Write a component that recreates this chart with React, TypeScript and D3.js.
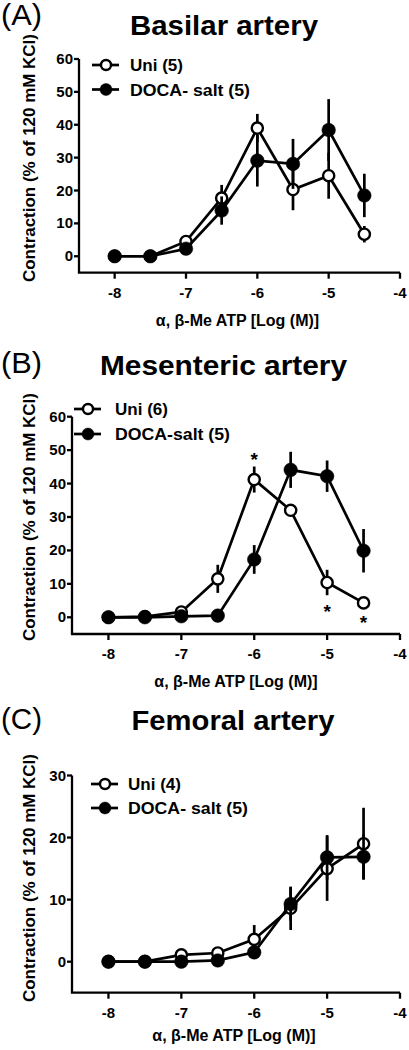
import React from "react";
import * as d3 from "d3";

// ---- data ----
const doses = [-8, -7.5, -7, -6.5, -6, -5.5, -5, -4.5];
const xTicks = [-8, -7, -6, -5, -4];
const yTicksAB = [0, 10, 20, 30, 40, 50, 60];
const yTicksC = [0, 10, 20, 30];

const basilarUni = [0, 0, 4.5, 17.7, 39.0, 20.3, 24.5, 6.7];
const basilarUniSem = [0, 0, 1.0, 4.0, 4.3, 6.3, 7.0, 2.5];
const basilarDoca = [0, 0, 2.3, 13.9, 29.1, 28.1, 38.4, 18.5];
const basilarDocaSem = [0, 0, 0.8, 4.3, 7.9, 7.6, 9.4, 6.6];

const mesUni = [0, 0.2, 1.6, 11.5, 41.2, 32.0, 10.4, 4.3];
const mesUniSem = [0, 0, 0.8, 4.2, 3.9, 1.2, 3.8, 1.2];
const mesDoca = [0, 0, 0.3, 0.5, 17.3, 44.1, 42.2, 19.9];
const mesDocaSem = [0, 0, 0, 0.3, 4.3, 5.4, 4.7, 6.5];
const mesStars = [
  { x: -6, y: 48.5 },
  { x: -5, y: 3.2 },
  { x: -4.5, y: -0.2 },
];

const femUni = [0, 0, 1.1, 1.4, 3.6, 8.6, 15.0, 19.0];
const femUniSem = [0, 0, 0.3, 0.3, 2.3, 3.5, 5.2, 5.8];
const femDoca = [0, 0, 0, 0.2, 1.5, 9.3, 16.8, 16.9];
const femDocaSem = [0, 0, 0, 0.2, 0.5, 2.7, 3.6, 3.6];

const panelLetters = ["(A)", "(B)", "(C)"];
const titles = ["Basilar artery", "Mesenteric artery", "Femoral artery"];
const uniLabels = ["Uni (5)", "Uni (6)", "Uni (4)"];
const docaLabels = ["DOCA- salt (5)", "DOCA-salt (5)", "DOCA- salt (5)"];
const xLabel = "α, β-Me ATP [Log (M)]";
const yLabel = "Contraction (% of 120 mM KCl)";

// ---- layout ----
const FONT = "'Liberation Sans', Arial, Helvetica, sans-serif";

type Panel = {
  letter: string;
  title: string;
  uniLabel: string;
  docaLabel: string;
  uni: number[];
  uniSem: number[];
  doca: number[];
  docaSem: number[];
  stars: { x: number; y: number }[];
  yTicks: number[];
  yMax: number;
  left: number;
  right: number;
  yTop: number;
  yBottom: number;
  letterBase: number;
  titleX: number;
  titleBase: number;
  titleLen: number;
  legX: number;
  legY: number[];
  legTextX: number;
  legLen: number[];
  yLabelY: number;
  xLabelX: number;
  xLabelBase: number;
};

const panels: Panel[] = [
  {
    letter: panelLetters[0], title: titles[0], uniLabel: uniLabels[0], docaLabel: docaLabels[0],
    uni: basilarUni, uniSem: basilarUniSem, doca: basilarDoca, docaSem: basilarDocaSem, stars: [],
    yTicks: yTicksAB, yMax: 60,
    left: 79, right: 400, yTop: 59, yBottom: 272.7,
    letterBase: 25, titleX: 224, titleBase: 35, titleLen: 188,
    legX: 106, legY: [65, 89.5], legTextX: 130, legLen: [53, 120],
    yLabelY: 158, xLabelX: 237.5, xLabelBase: 326,
  },
  {
    letter: panelLetters[1], title: titles[1], uniLabel: uniLabels[1], docaLabel: docaLabels[1],
    uni: mesUni, uniSem: mesUniSem, doca: mesDoca, docaSem: mesDocaSem, stars: mesStars,
    yTicks: yTicksAB, yMax: 60,
    left: 72, right: 400, yTop: 416.7, yBottom: 634,
    letterBase: 373, titleX: 223.5, titleBase: 375, titleLen: 247,
    legX: 88, legY: [409, 434], legTextX: 115, legLen: [53, 115],
    yLabelY: 517, xLabelX: 236, xLabelBase: 687,
  },
  {
    letter: panelLetters[2], title: titles[2], uniLabel: uniLabels[2], docaLabel: docaLabels[2],
    uni: femUni, uniSem: femUniSem, doca: femDoca, docaSem: femDocaSem, stars: [],
    yTicks: yTicksC, yMax: 30,
    left: 72, right: 400, yTop: 775.5, yBottom: 992.7,
    letterBase: 729, titleX: 233, titleBase: 730, titleLen: 203,
    legX: 105, legY: [784, 808], legTextX: 128, legLen: [53, 120],
    yLabelY: 878, xLabelX: 234, xLabelBase: 1041,
  },
];

const LW = 2.7;
const R = 6.8;

function Series({ x, y, vals, sem, open }: any) {
  const line = d3
    .line<number>()
    .x((_, i) => x(doses[i]))
    .y((v) => y(v));
  return (
    <g>
      {vals.map((v: number, i: number) =>
        sem[i] > 0 ? (
          <line
            key={"e" + i}
            x1={x(doses[i])}
            x2={x(doses[i])}
            y1={y(v + sem[i])}
            y2={y(v - sem[i])}
            stroke="#000"
            strokeWidth={LW}
          />
        ) : null
      )}
      <path d={line(vals) || ""} fill="none" stroke="#000" strokeWidth={LW} />
      {vals.map((v: number, i: number) => (
        <circle
          key={"m" + i}
          cx={x(doses[i])}
          cy={y(v)}
          r={open ? R - 1.2 : R}
          fill={open ? "#fff" : "#000"}
          stroke="#000"
          strokeWidth={open ? 2.4 : 0.5}
        />
      ))}
    </g>
  );
}

function PanelView({ p }: { p: Panel }) {
  const x = d3.scaleLinear().domain([-8.5, -4]).range([p.left, p.right]);
  const y = d3.scaleLinear().domain([-5, p.yMax]).range([p.yBottom, p.yTop]);
  return (
    <g fontFamily={FONT}>
      <text x={1} y={p.letterBase} fontSize={29} textLength={41} lengthAdjust="spacingAndGlyphs">
        {p.letter}
      </text>
      <text
        x={p.titleX - p.titleLen / 2}
        y={p.titleBase}
        fontSize={28}
        fontWeight="bold"
        textLength={p.titleLen}
        lengthAdjust="spacingAndGlyphs"
      >
        {p.title}
      </text>
      {/* axes */}
      <line x1={p.left} x2={p.left} y1={y(p.yMax)} y2={p.yBottom} stroke="#000" strokeWidth={2.3} />
      <line x1={p.left - 1.1} x2={p.right} y1={p.yBottom} y2={p.yBottom} stroke="#000" strokeWidth={2.3} />
      {p.yTicks.map((t) => (
        <g key={"yt" + t}>
          <line x1={p.left - 5} x2={p.left} y1={y(t)} y2={y(t)} stroke="#000" strokeWidth={2.3} />
          <text x={p.left - 6} y={y(t) + 5} textAnchor="end" fontSize={15} fontWeight="bold">
            {t}
          </text>
        </g>
      ))}
      {xTicks.map((t) => (
        <g key={"xt" + t}>
          <line x1={x(t)} x2={x(t)} y1={p.yBottom} y2={p.yBottom + 6} stroke="#000" strokeWidth={2.3} />
          <text x={x(t)} y={p.yBottom + 25} textAnchor="middle" fontSize={15} fontWeight="bold">
            {String(t)}
          </text>
        </g>
      ))}
      <text
        transform={`translate(29, ${p.yLabelY}) rotate(-90)`}
        textAnchor="middle"
        dy="0.35em"
        fontSize={16.5}
        fontWeight="bold"
        textLength={248}
        lengthAdjust="spacingAndGlyphs"
      >
        {yLabel}
      </text>
      <text
        x={p.xLabelX}
        y={p.xLabelBase}
        textAnchor="middle"
        fontSize={16}
        fontWeight="bold"
      >
        {xLabel}
      </text>
      {/* legend */}
      {[0, 1].map((k) => (
        <g key={"lg" + k}>
          <line x1={p.legX - 14} x2={p.legX + 13} y1={p.legY[k]} y2={p.legY[k]} stroke="#000" strokeWidth={LW} />
          <circle
            cx={p.legX}
            cy={p.legY[k]}
            r={k === 0 ? 5 : 6}
            fill={k === 0 ? "#fff" : "#000"}
            stroke="#000"
            strokeWidth={k === 0 ? 2.4 : 0.5}
          />
          <text
            x={p.legTextX}
            y={p.legY[k] + 6}
            fontSize={16}
            fontWeight="bold"
            textLength={p.legLen[k]}
            lengthAdjust="spacingAndGlyphs"
          >
            {k === 0 ? p.uniLabel : p.docaLabel}
          </text>
        </g>
      ))}
      <Series x={x} y={y} vals={p.uni} sem={p.uniSem} open={true} />
      <Series x={x} y={y} vals={p.doca} sem={p.docaSem} open={false} />
      {p.stars.map((s, i) => (
        <text key={"s" + i} x={x(s.x)} y={y(s.y) + 11} textAnchor="middle" fontSize={19} fontWeight="bold">
          *
        </text>
      ))}
    </g>
  );
}

export default function App() {
  return (
    <svg
      width={409}
      height={1050}
      viewBox="0 0 409 1050"
      style={{ position: "absolute", left: 0, top: 0, background: "#fff" }}
    >
      <rect width={409} height={1050} fill="#fff" />
      {panels.map((p, i) => (
        <PanelView key={i} p={p} />
      ))}
    </svg>
  );
}
